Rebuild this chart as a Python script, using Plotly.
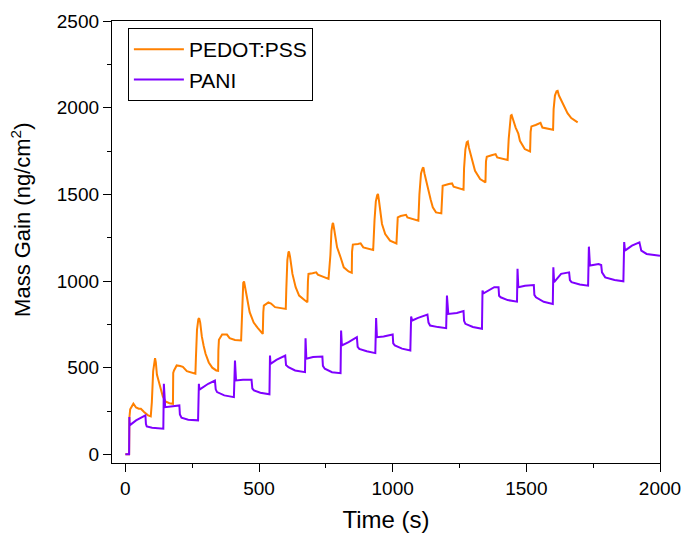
import plotly.graph_objects as go

# ---- data ----
pedot_time = [0, 14, 15, 18, 30, 40, 50, 58, 70, 85, 95,
              99, 104, 108, 111, 114, 118, 125, 133, 140, 150, 165, 178,
              179, 182, 192, 205, 215, 230, 262,
              264, 268, 273, 276, 280, 286, 293, 300, 312, 325, 340, 347,
              348, 350, 362, 380, 390, 410, 433,
              435, 438, 441, 444, 448, 457, 465, 470, 480, 495, 514,
              516, 518, 535, 545, 560, 600,
              602, 606, 610, 612, 616, 625, 637, 650, 670, 681,
              683, 685, 700, 714, 720, 760,
              767, 771, 775, 777, 781, 792, 805, 817, 835, 847,
              848, 851, 870, 880, 890, 927,
              932, 937, 942, 945, 949, 960, 972, 990, 1014,
              1016, 1019, 1030, 1050, 1055, 1096,
              1100, 1106, 1112, 1115, 1119, 1130, 1142, 1150, 1162, 1182,
              1184, 1187, 1210, 1222, 1228, 1265,
              1267, 1272, 1277, 1281, 1285, 1296, 1308, 1327, 1347,
              1349, 1352, 1370, 1385, 1391, 1430,
              1434, 1438, 1442, 1445, 1450, 1460, 1470, 1476, 1494, 1514,
              1516, 1519, 1535, 1553, 1560, 1600,
              1602, 1607, 1613, 1617, 1622, 1632, 1645, 1654, 1668, 1686, 1692]
pedot_mass = [0, 0, 210, 260, 292, 270, 263, 263, 244, 225, 219,
              300, 480, 540, 555, 530, 460, 420, 375, 335, 305, 295, 292,
              470, 484, 513, 510, 505, 480, 465,
              560, 720, 780, 785, 760, 680, 625, 580, 530, 500, 484, 482,
              600, 661, 691, 691, 670, 660, 657,
              780, 940, 990, 997, 960, 887, 820, 800, 760, 730, 695,
              820, 858, 877, 870, 849, 839,
              950, 1120, 1165, 1171, 1140, 1041, 964, 916, 890, 877,
              1000, 1041, 1045, 1050, 1037, 1012,
              1150, 1290, 1330, 1335, 1300, 1194, 1137, 1079, 1055, 1047,
              1170, 1210, 1214, 1217, 1194, 1179,
              1350, 1460, 1495, 1502, 1460, 1329, 1271, 1233, 1217,
              1340, 1367, 1375, 1382, 1367, 1348,
              1500, 1620, 1650, 1655, 1620, 1540, 1470, 1425, 1396, 1390,
              1510, 1549, 1560, 1563, 1544, 1527,
              1650, 1760, 1800, 1805, 1770, 1703, 1636, 1588, 1569,
              1690, 1717, 1725, 1732, 1713, 1698,
              1820, 1920, 1955, 1958, 1930, 1885, 1850, 1809, 1761, 1747,
              1860, 1892, 1900, 1912, 1885, 1872,
              1990, 2070, 2095, 2097, 2070, 2039, 1990, 1968, 1940, 1920, 1915]

pani_time = [0, 14, 15, 16, 40, 65, 75, 77, 80, 100, 142,
             144, 147, 149, 170, 202,
             204, 210, 235, 272,
             275, 277, 310, 335,
             338, 343, 370, 406,
             410, 413, 414, 440, 472,
             475, 481, 505, 539,
             541, 543, 565, 598,
             601, 610, 635, 672,
             674, 677, 702, 737,
             739, 746, 773, 805,
             807, 810, 835, 866,
             869, 875, 903, 935,
             938, 941, 966, 1000,
             1002, 1008, 1035, 1066,
             1069, 1073, 1095, 1130,
             1134, 1140, 1170, 1200,
             1203, 1208, 1240, 1265,
             1267, 1272, 1300, 1334,
             1336, 1340, 1380, 1396,
             1398, 1404, 1430, 1465,
             1467, 1470, 1495, 1528,
             1530, 1536, 1565, 1599,
             1601, 1604, 1630, 1660,
             1663, 1669, 1700, 1731,
             1734, 1738, 1755, 1770, 1780,
             1783, 1795, 1830, 1863,
             1866, 1869, 1895, 1923,
             1930, 1950, 2000]
pani_mass = [0, 0, 215, 167, 196, 215, 225, 175, 161, 154, 148,
             407, 300, 272, 276, 282,
             230, 211, 200, 196,
             407, 373, 407, 426,
             375, 359, 340, 330,
             541, 440, 426, 430, 430,
             380, 369, 355, 346,
             570, 522, 545, 570,
             515, 503, 484, 474,
             670, 551, 561, 564,
             510, 494, 474, 468,
             714, 628, 647, 676,
             620, 608, 595, 584,
             787, 676, 680, 691,
             640, 628, 610, 599,
             795, 772, 787, 806,
             760, 743, 734, 728,
             916, 810, 815, 826,
             770, 753, 735, 724,
             945, 929, 964, 964,
             915, 906, 890, 881,
             1070, 964, 973, 977,
             920, 906, 880, 868,
             1079, 993, 1041, 1050,
             1005, 993, 980, 973,
             1198, 1089, 1094, 1098, 1092,
             1050, 1021, 1006, 998,
             1225, 1175, 1204, 1223,
             1175, 1156, 1146]

series_names = ["PEDOT:PSS", "PANI"]
series_colors = ["#FF8000", "#7F00FF"]

x_title = "Time (s)"
y_title = "Mass Gain (ng/cm<sup>2</sup>)"

FONT = "Liberation Sans, Arial, sans-serif"

fig = go.Figure()
fig.add_trace(go.Scatter(x=pedot_time, y=pedot_mass, mode="lines",
                         name=series_names[0],
                         line=dict(color=series_colors[0], width=2)))
fig.add_trace(go.Scatter(x=pani_time, y=pani_mass, mode="lines",
                         name=series_names[1],
                         line=dict(color=series_colors[1], width=2)))

axis_common = dict(
    showline=True, linecolor="black", linewidth=1.3, mirror=True,
    ticks="outside", ticklen=8, tickwidth=1.3, tickcolor="black",
    showgrid=False, zeroline=False, automargin=False,
    tickfont=dict(family=FONT, size=19, color="black"),
)

fig.update_layout(
    width=682, height=533,
    margin=dict(l=112, r=22, t=21, b=70),
    paper_bgcolor="white", plot_bgcolor="white",
    font=dict(family=FONT, color="black"),
    showlegend=True,
    legend=dict(x=0.029, y=0.984, xanchor="left", yanchor="top",
                bordercolor="black", borderwidth=1, bgcolor="white",
                font=dict(family=FONT, size=21, color="black"),
                tracegroupgap=0, itemwidth=50),
    xaxis=dict(range=[-50, 2000], dtick=500, tick0=0,
               title=dict(text=x_title, font=dict(family=FONT, size=24), standoff=13),
               minor=dict(dtick=250, tick0=0, ticks="outside", ticklen=4,
                          tickwidth=1.3, tickcolor="black"),
               **axis_common),
    yaxis=dict(range=[-50, 2500], dtick=500, tick0=0,
               minor=dict(dtick=250, tick0=0, ticks="outside", ticklen=4,
                          tickwidth=1.3, tickcolor="black"),
               **axis_common),
    annotations=[dict(text=y_title, textangle=-90, showarrow=False,
                      xref="paper", yref="paper", x=-0.166, y=0.55,
                      xanchor="center", yanchor="middle",
                      font=dict(family=FONT, size=22, color="black"))],
)

fig.write_html("out.html", config={"displayModeBar": False},
               post_script="document.body.style.margin='0';document.body.style.padding='0';")
